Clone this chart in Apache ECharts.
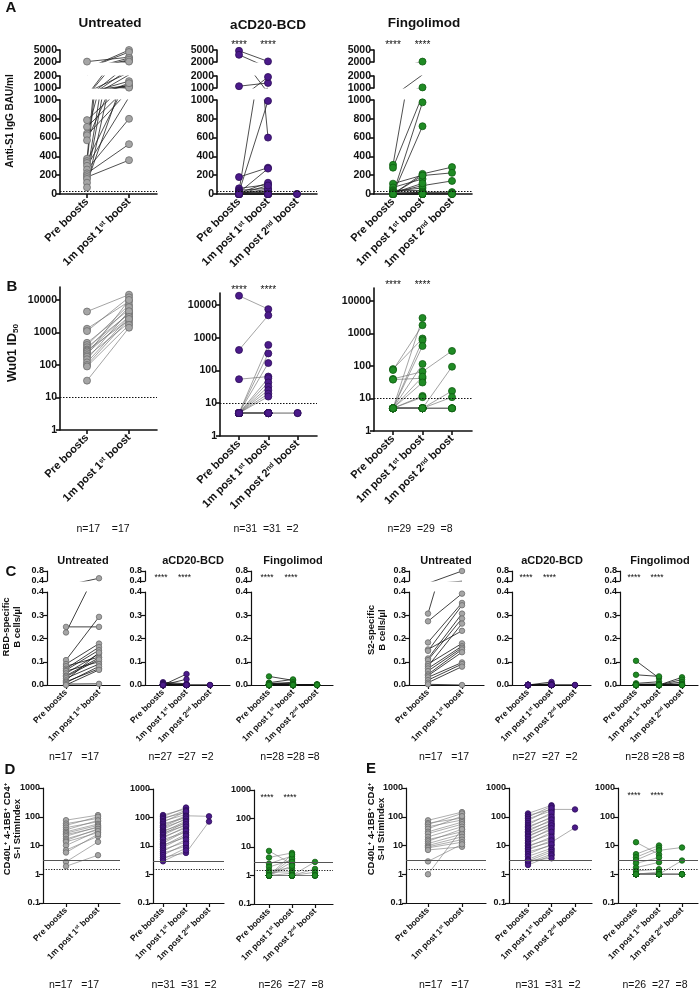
<!DOCTYPE html>
<html><head><meta charset="utf-8">
<script src="https://cdn.jsdelivr.net/npm/echarts@6/dist/echarts.min.js"></script>
<style>html,body{margin:0;padding:0;background:#fff}#c{width:699px;height:989px}</style>
</head><body><div id="c"></div>
<script>
// ---------------- DATA (one entry per subject, null = not measured) ----------------
const CATEGORIES = ['Pre boosts', '1m post 1{sup|st} boost', '1m post 2{sup|nd} boost'];
const TICKS_A_TOP = [2000, 5000], TICKS_A_MID = [1000, 2000];
const TICKS_LOG_B = [1, 10, 100, 1000, 10000];
const TICKS_C_TOP = [0.4, 0.8];
const TICKS_LOG_DE = [0.1, 1, 10, 100, 1000];
const A_CUTOFF = 33.8, B_CUTOFF = 10, DE_POS = 3, DE_CUT = 1.5;

// Panel A: Anti-S1 IgG BAU/ml
const A_UNT_PRE   = [2100, 786, 714, 643, 625, 571, 375, 350, 330, 300, 260, 220, 200, 180, 160, 120, 70];
const A_UNT_POST1 = [3200, 1200, 1150, 2300, 1100, 1570, 5000, 1250, 4500, 1030, 800, 530, 3000, 360, 2570, 1400, 2100];
const A_CD20_PRE   = [4800, 3800, 1150, 180, 60, 40, 30, 20, 15, 10, 10, 5, 5, 5, 5, 5, 0, 0, 0, 0, 0, 0, 0, 0, 0, 0, 0, 0, 0, 0, 0];
const A_CD20_POST1 = [2150, 600, 1420, 280, 100, 60, 1920, 990, 270, 120, 30, 20, 10, 5, 5, 50, 90, 0, 0, 0, 0, 0, 0, 0, 0, 0, 0, 0, 0, 0, 0];
const A_CD20_POST2 = [null, null, null, null, null, null, null, null, null, null, null, null, null, null, null, null, null, null, null, null, null, null, null, null, null, null, null, null, null, 0, 0];
const A_FING_PRE   = [310, 280, 110, 70, 40, 30, 20, 15, 10, 10, 5, 5, 5, 5, 0, 0, 0, 0, 0, 0, 0, 0, 0, 0, 0, 0, 0, 0, 0];
const A_FING_POST1 = [2100, 1050, 200, 160, 36, 64, 18, 89, 114, 10, 5, 0, 5, 0, 975, 721, 214, 196, 0, 0, 18, 10, 0, 0, 0, 5, 0, 0, 0];
const A_FING_POST2 = [null, null, null, null, null, null, null, 139, null, null, null, null, null, null, null, null, 286, 225, null, null, 20, 10, 0, 0, 0, null, null, null, null];

// Panel B: Wu01 ID50
const B_UNT_PRE   = [4400, 1300, 1100, 480, 410, 350, 300, 280, 260, 230, 200, 180, 150, 120, 100, 90, 33];
const B_UNT_POST1 = [14500, 9000, 12000, 5000, 7000, 3700, 6000, 2400, 4000, 3100, 10000, 2000, 4500, 3000, 2600, 1700, 1400];
const B_CD20_PRE   = [19000, 420, 54, 5, 5, 5, 5, 5, 5, 5, 5, 5, 5, 5, 5, 5, 5, 5, 5, 5, 5, 5, 5, 5, 5, 5, 5, 5, 5, 5, 5];
const B_CD20_POST1 = [7400, 4800, 65, 600, 330, 168, 58, 43, 32, 25, 19.5, 16, 5, 5, 5, 5, 5, 5, 5, 5, 5, 5, 5, 5, 5, 5, 5, 5, 5, 5, 5];
const B_CD20_POST2 = [null, null, null, null, null, null, null, null, null, null, null, null, null, null, null, null, null, null, null, null, null, null, null, null, null, null, null, null, null, 5, 5];
const B_FING_PRE   = [80, 75, 40, 38, 5, 5, 5, 5, 5, 5, 5, 5, 5, 5, 5, 5, 5, 5, 5, 5, 5, 5, 5, 5, 5, 5, 5, 5, 5];
const B_FING_POST1 = [700, 1800, 67, 42, 3000, 620, 410, 115, 47, 31, 12, 11, 5, 5, 5, 5, 5, 5, 5, 5, 5, 5, 5, 5, 5, 5, 5, 5, 5];
const B_FING_POST2 = [null, null, 290, null, null, null, null, null, null, null, null, null, 95, 17, 11, 5, 5, 5, 5, null, null, null, null, null, null, null, null, null, null];

// Panel C: RBD-specific and S2-specific B cells/µl
const C_RBD_UNT_PRE   = [0.25, 0.226, 0.107, 0.09, 0.081, 0.07, 0.064, 0.06, 0.05, 0.04, 0.036, 0.029, 0.02, 0.014, 0.01, 0.004, 0.0];
const C_RBD_UNT_POST1 = [0.25, 0.51, 0.293, 0.178, 0.12, 0.163, 0.15, 0.1, 0.134, 0.117, 0.11, 0.09, 0.14, 0.07, 0.08, 0.005, 0.065];
const C_RBD_CD20_PRE   = [0.012, 0.008, 0.005, 0.003, 0.002, 0, 0, 0, 0, 0, 0, 0, 0, 0, 0, 0, 0, 0, 0, 0, 0, 0, 0, 0, 0, 0, 0];
const C_RBD_CD20_POST1 = [0.005, 0.002, 0, 0, 0, 0.047, 0.025, 0, 0, 0, 0, 0, 0, 0, 0, 0, 0, 0, 0, 0, 0, 0, 0, 0, 0, 0, 0];
const C_RBD_CD20_POST2 = [null, null, null, null, null, null, null, null, null, null, null, null, null, null, null, null, null, null, null, null, null, null, null, null, null, 0, 0];
const C_RBD_FING_PRE   = [0.037, 0.01, 0.008, 0.005, 0.004, 0.002, 0, 0, 0, 0, 0, 0, 0, 0, 0, 0, 0, 0, 0, 0, 0, 0, 0, 0, 0, 0, 0, 0];
const C_RBD_FING_POST1 = [0.02, 0.024, 0.005, 0.012, 0.003, 0, 0.006, 0.002, 0, 0, 0, 0, 0, 0, 0, 0, 0, 0, 0, 0, 0, 0, 0, 0, 0, 0, 0, 0];
const C_RBD_FING_POST2 = [null, null, null, null, null, null, null, null, null, null, null, null, null, null, null, null, null, null, null, null, 0.003, 0.002, 0.001, 0, 0, 0, 0, 0];
const C_S2_UNT_PRE   = [0.307, 0.274, 0.183, 0.153, 0.147, 0.114, 0.107, 0.09, 0.081, 0.071, 0.06, 0.046, 0.04, 0.033, 0.021, 0.01, 0.003];
const C_S2_UNT_POST1 = [0.8, 0.393, 0.353, 0.233, 0.343, 0.307, 0.286, 0.179, 0.264, 0.167, 0.16, 0.153, 0.141, 0.097, 0.09, 0.079, 0.0];
const C_S2_CD20_PRE   = [0, 0, 0, 0, 0, 0, 0, 0, 0, 0, 0, 0, 0, 0, 0, 0, 0, 0, 0, 0, 0, 0, 0, 0, 0, 0, 0];
const C_S2_CD20_POST1 = [0.013, 0.005, 0, 0, 0, 0, 0, 0, 0, 0, 0, 0, 0, 0, 0, 0, 0, 0, 0, 0, 0, 0, 0, 0, 0, 0, 0];
const C_S2_CD20_POST2 = [null, null, null, null, null, null, null, null, null, null, null, null, null, null, null, null, null, null, null, null, null, null, null, null, null, 0, 0];
const C_S2_FING_PRE   = [0.104, 0.044, 0.007, 0.003, 0, 0, 0, 0, 0, 0, 0, 0, 0, 0, 0, 0, 0, 0, 0, 0, 0, 0, 0, 0, 0, 0, 0, 0];
const C_S2_FING_POST1 = [0.03, 0.037, 0.014, 0.005, 0.002, 0, 0, 0, 0, 0, 0, 0, 0, 0, 0, 0, 0, 0, 0, 0, 0, 0, 0, 0, 0, 0, 0, 0];
const C_S2_FING_POST2 = [null, null, null, null, null, null, null, null, null, null, null, null, null, null, null, null, null, null, null, null, 0.033, 0.023, 0.013, 0.005, 0.002, 0, 0, 0];

// Panel D: S-I StimIndex
const D_UNT_PRE   = [76, 58, 50, 42, 35, 30, 27, 24, 21, 17, 15, 13.4, 10, 6.9, 5.7, 2.7, 1.9];
const D_UNT_POST1 = [114, 87, 100, 67, 75, 56, 50, 42, 45, 35, 38, 28, 32, 21, 25, 13.4, 4.6];
const D_CD20_PRE   = [122, 108, 96, 88, 75, 68, 60, 52, 47, 44, 38, 34, 31, 29, 26, 24, 21, 19, 17, 14, 12.5, 11, 10, 8.8, 7.5, 6.5, 5.6, 4.8, 4.0, 3.4, 2.9];
const D_CD20_POST1 = [200, 223, 150, 180, 128, 165, 98, 115, 108, 85, 92, 63, 76, 52, 70, 58, 43, 48, 30, 38, 34, 20, 26, 23, 14, 17, 10, 12, 5.7, 8.5, 7];
const D_CD20_POST2 = [null, null, null, null, null, null, null, 110, null, null, null, null, null, null, null, null, null, null, null, null, null, null, null, null, null, null, null, null, 72, null, null];
const D_FING_PRE   = [7.3, 4.3, 2.6, 2.0, 1.5, 1.3, 1, 1, 1, 1, 1, 1, 1, 1, 1, 1, 1, 1, 1, 1, 1, 1, 1, 1, 1, 1, null];
const D_FING_POST1 = [2.5, 6.2, 4.8, 3.5, 1.8, 1.35, 4.0, 3.0, 2.2, 1.2, 5.5, 1, 1, 1, 1, 1, 1, 1, 1, 1, 1, 1, 1, 1, 1, 1, 1];
const D_FING_POST2 = [null, null, null, null, null, null, null, null, null, null, null, null, null, null, null, null, null, null, 3.0, 1.7, 1.3, 1, 1, 1, 1, 1, null];

// Panel E: S-II StimIndex
const E_UNT_PRE   = [75, 60, 54, 45, 38, 30, 26, 20, 16, 14, 11.7, 10, 9, 8.3, 7, 2.8, 1.0];
const E_UNT_POST1 = [145, 90, 130, 77, 105, 65, 55, 45, 30, 37, 25, 20, 16, 13, 9, 11, 37];
const E_CD20_PRE   = [130, 112, 98, 85, 72, 61, 52, 46, 41, 36, 31, 28, 25, 22, 20, 17, 15, 13, 11.5, 10, 9, 8, 7, 6, 5, 4.2, 3.3, 2.9, 2.5, 2.1, 3.0];
const E_CD20_POST1 = [250, 180, 230, 160, 200, 120, 140, 90, 100, 70, 80, 55, 60, 45, 50, 35, 40, 25, 30, 17, 20, 13, 15, 10, 11, 8, 7, 6, 5, 4.5, 3.6];
const E_CD20_POST2 = [null, 180, null, null, null, null, null, null, null, null, null, null, null, null, null, null, null, null, null, null, null, 42, null, null, null, null, null, null, null, null, null];
const E_FING_PRE   = [13, 5.0, 3.9, 3.1, 2.4, 1.7, 1.3, 1, 1, 1, 1, 1, 1, 1, 1, 1, 1, 1, 1, 1, 1, 1, 1, 1, 1, 1, null];
const E_FING_POST1 = [4.9, 10, 8.3, 6.8, 3.8, 2.6, 1.5, 1.2, 1, 1, 1, 1, 1, 1, 1, 1, 1, 1, 1, 1, 1, 1, 1, 1, 1, 1, 1];
const E_FING_POST2 = [null, null, null, 8.5, null, null, null, null, null, null, null, null, null, null, null, null, null, null, 3.0, 1, 1, 1, 1, 1, 1, null, null];

// ---------------- STYLE / LAYOUT ----------------
const FONT = '"Liberation Sans", Arial, Helvetica, sans-serif';
const GRP = {
  unt:  {fill: '#a5a5a5', border: '#6c6c6c'},
  cd20: {fill: '#4b1a8a', border: '#2c0c58'},
  fing: {fill: '#1f8b24', border: '#0f5c12'}
};
const SAB = {aw: 1.6, xfs: 11, yfs: 10.5, sym: 7};
const SCDE = {aw: 1.2, xfs: 8.5, yfs: 9, sym: 5.5};

const grids = [], xAxis = [], yAxis = [], series = [], graphic = [];
const fmt1 = v => Number(v).toFixed(1);
const fmtS = v => String(+Number(v).toPrecision(6));

function build(p) {
  const nT = p.data.length, nS = p.data[0].length;
  const xmin = -(p.c0 - p.left) / p.d, xmax = (p.right - p.c0) / p.d;
  const ticks = []; for (let t = 0; t < nT; t++) ticks.push(t);
  p.segs.forEach((s, si) => {
    const gi = grids.length;
    const isBottom = si === p.segs.length - 1;
    grids.push({left: p.left, top: s.top, width: p.right - p.left, height: s.bottom - s.top,
      containLabel: false, outerBoundsMode: 'none'});
    xAxis.push({gridIndex: gi, type: 'value', min: xmin, max: xmax, show: true,
      axisLine: {show: isBottom, onZero: false, lineStyle: {color: '#111', width: p.st.aw}},
      splitLine: {show: false},
      axisTick: {show: isBottom, customValues: ticks, length: 4, lineStyle: {color: '#111', width: p.st.aw}},
      axisLabel: {show: isBottom, customValues: ticks, formatter: v => CATEGORIES[Math.round(v)], rotate: 45,
        margin: 6, fontSize: p.st.xfs, fontWeight: 'bold', fontFamily: FONT, color: '#111',
        rich: {sup: {fontSize: Math.round(p.st.xfs * 0.62), fontWeight: 'bold', fontFamily: FONT, color: '#111', verticalAlign: 'top'}}}});
    const y = {gridIndex: gi, type: s.log ? 'log' : 'value', min: s.min, max: s.max,
      axisLine: {show: true, onZero: false, lineStyle: {color: '#111', width: p.st.aw}},
      splitLine: {show: false},
      axisTick: {show: true, length: 4, lineStyle: {color: '#111', width: p.st.aw}},
      axisLabel: {fontSize: p.st.yfs, fontWeight: 'bold', fontFamily: FONT, color: '#111', margin: 3, formatter: s.fmt || fmtS}};
    if (s.log) y.logBase = 10;
    if (s.interval) y.interval = s.interval;
    if (s.custom) { y.axisTick.customValues = s.custom; y.axisLabel.customValues = s.custom; }
    yAxis.push(y);
    // one polyline per subject, broken between subjects; each segment's grid clips to its own range
    const ld = [];
    for (let i = 0; i < nS; i++) {
      for (let t = 0; t < nT; t++) { const v = p.data[t][i]; ld.push(v == null ? ['-', '-'] : [t, v]); }
      ld.push(['-', '-']);
    }
    series.push({type: 'line', xAxisIndex: gi, yAxisIndex: gi, data: ld, symbol: 'none', showSymbol: false,
      connectNulls: false, clip: true, silent: true, animation: false, z: 2,
      lineStyle: {color: p.lc, width: p.lw}});
    const pts = [];
    for (let t = 0; t < nT; t++) for (let i = 0; i < nS; i++) { const v = p.data[t][i]; if (v != null) pts.push([t, v]); }
    const sc = {type: 'scatter', xAxisIndex: gi, yAxisIndex: gi, data: pts, symbol: 'circle', symbolSize: p.st.sym,
      clip: true, silent: true, animation: false, z: 3,
      itemStyle: {color: p.g.fill, borderColor: p.g.border, borderWidth: 0.8, opacity: 1}};
    if (isBottom && p.hlines) {
      sc.markLine = {silent: true, symbol: ['none', 'none'], animation: false, label: {show: false},
        lineStyle: {color: '#111', width: 1},
        data: p.hlines.map(h => ({yAxis: h.v, lineStyle: {type: h.type, color: h.c, width: h.w}}))};
    }
    series.push(sc);
  });
  return p;
}

function catX(p, t) { return p.c0 + t * p.d; }

function txt(x, y, text, o) {
  o = o || {};
  graphic.push({type: 'text', x, y, rotation: o.rot || 0, silent: true, z: 10,
    style: {text, fill: '#111', font: (o.w || 'bold') + ' ' + (o.fs || 11) + 'px ' + FONT,
      fontFamily: FONT, fontSize: o.fs || 11, fontWeight: o.w || 'bold',
      align: o.align || 'center', verticalAlign: 'middle', rich: o.rich}});
}

// ---- Panel A (broken axis: three stacked grids) ----
const segA = () => [
  {top: 50, bottom: 62, min: 2000, max: 5000, custom: TICKS_A_TOP},
  {top: 76, bottom: 88, min: 1000, max: 2000, custom: TICKS_A_MID},
  {top: 100, bottom: 194, min: 0, max: 1000, interval: 200}];
const hA = [{v: A_CUTOFF, type: [1.5, 1.5], c: '#111', w: 1}];
build({left: 60, right: 157, c0: 87, d: 42, segs: segA(), st: SAB, g: GRP.unt, lc: '#222', lw: 0.8, hlines: hA,
  data: [A_UNT_PRE, A_UNT_POST1]});
const pAc = build({left: 217, right: 317, c0: 239, d: 29, segs: segA(), st: SAB, g: GRP.cd20, lc: '#222', lw: 0.8, hlines: hA,
  data: [A_CD20_PRE, A_CD20_POST1, A_CD20_POST2]});
const pAf = build({left: 374, right: 472, c0: 393, d: 29.5, segs: segA(), st: SAB, g: GRP.fing, lc: '#222', lw: 0.8, hlines: hA,
  data: [A_FING_PRE, A_FING_POST1, A_FING_POST2]});

// ---- Panel B ----
const hB = [{v: B_CUTOFF, type: [1.5, 1.5], c: '#111', w: 1}];
build({left: 60, right: 157, c0: 87, d: 42, st: SAB, g: GRP.unt, lc: '#666', lw: 0.6, hlines: hB,
  segs: [{top: 287, bottom: 430, min: 1, max: 25000, log: true, custom: TICKS_LOG_B}],
  data: [B_UNT_PRE, B_UNT_POST1]});
const pBc = build({left: 220, right: 317, c0: 239, d: 29.3, st: SAB, g: GRP.cd20, lc: '#666', lw: 0.6, hlines: hB,
  segs: [{top: 293, bottom: 436, min: 1, max: 23000, log: true, custom: TICKS_LOG_B}],
  data: [B_CD20_PRE, B_CD20_POST1, B_CD20_POST2]});
const pBf = build({left: 374, right: 472, c0: 393, d: 29.5, st: SAB, g: GRP.fing, lc: '#666', lw: 0.6, hlines: hB,
  segs: [{top: 288, bottom: 431, min: 1, max: 25000, log: true, custom: TICKS_LOG_B}],
  data: [B_FING_PRE, B_FING_POST1, B_FING_POST2]});

// ---- Panel C (broken axis: two stacked grids) ----
const segC = () => [
  {top: 571, bottom: 581, min: 0.4, max: 0.8, custom: TICKS_C_TOP, fmt: fmt1},
  {top: 592, bottom: 685, min: 0, max: 0.4, interval: 0.1, fmt: fmt1}];
build({left: 47, right: 120, c0: 66, d: 33, segs: segC(), st: SCDE, g: GRP.unt, lc: '#111', lw: 0.8,
  data: [C_RBD_UNT_PRE, C_RBD_UNT_POST1]});
const pCr2 = build({left: 145, right: 230, c0: 163, d: 23.5, segs: segC(), st: SCDE, g: GRP.cd20, lc: '#111', lw: 0.8,
  data: [C_RBD_CD20_PRE, C_RBD_CD20_POST1, C_RBD_CD20_POST2]});
const pCr3 = build({left: 251, right: 333, c0: 269, d: 24, segs: segC(), st: SCDE, g: GRP.fing, lc: '#111', lw: 0.8,
  data: [C_RBD_FING_PRE, C_RBD_FING_POST1, C_RBD_FING_POST2]});
build({left: 409, right: 484, c0: 428, d: 34, segs: segC(), st: SCDE, g: GRP.unt, lc: '#111', lw: 0.8,
  data: [C_S2_UNT_PRE, C_S2_UNT_POST1]});
const pCs2 = build({left: 512, right: 591, c0: 528, d: 23.5, segs: segC(), st: SCDE, g: GRP.cd20, lc: '#111', lw: 0.8,
  data: [C_S2_CD20_PRE, C_S2_CD20_POST1, C_S2_CD20_POST2]});
const pCs3 = build({left: 620, right: 698, c0: 636, d: 23, segs: segC(), st: SCDE, g: GRP.fing, lc: '#111', lw: 0.8,
  data: [C_S2_FING_PRE, C_S2_FING_POST1, C_S2_FING_POST2]});

// ---- Panels D & E ----
const hDE = [{v: DE_POS, type: 'solid', c: '#555', w: 1}, {v: DE_CUT, type: [1.2, 1.5], c: '#111', w: 1}];
const segDE = (t, b) => [{top: t, bottom: b, min: 0.1, max: 1000, log: true, custom: TICKS_LOG_DE}];
build({left: 43, right: 120, c0: 66, d: 32, segs: segDE(788, 903), st: SCDE, g: GRP.unt, lc: '#777', lw: 0.6, hlines: hDE,
  data: [D_UNT_PRE, D_UNT_POST1]});
build({left: 153, right: 224, c0: 163, d: 23, segs: segDE(789, 903), st: SCDE, g: GRP.cd20, lc: '#777', lw: 0.6, hlines: hDE,
  data: [D_CD20_PRE, D_CD20_POST1, D_CD20_POST2]});
const pDf = build({left: 254, right: 333, c0: 269, d: 23, segs: segDE(790, 904), st: SCDE, g: GRP.fing, lc: '#777', lw: 0.6, hlines: hDE,
  data: [D_FING_PRE, D_FING_POST1, D_FING_POST2]});
build({left: 406, right: 486, c0: 428, d: 34, segs: segDE(788, 903), st: SCDE, g: GRP.unt, lc: '#777', lw: 0.6, hlines: hDE,
  data: [E_UNT_PRE, E_UNT_POST1]});
build({left: 509, right: 592, c0: 528, d: 23.5, segs: segDE(788, 903), st: SCDE, g: GRP.cd20, lc: '#777', lw: 0.6, hlines: hDE,
  data: [E_CD20_PRE, E_CD20_POST1, E_CD20_POST2]});
const pEf = build({left: 618, right: 698, c0: 636, d: 23, segs: segDE(788, 903), st: SCDE, g: GRP.fing, lc: '#777', lw: 0.6, hlines: hDE,
  data: [E_FING_PRE, E_FING_POST1, E_FING_POST2]});

// ---------------- TEXT ----------------
txt(11, 8, 'A', {fs: 15}); txt(12, 287, 'B', {fs: 15}); txt(11, 572, 'C', {fs: 15});
txt(10, 770, 'D', {fs: 15}); txt(371, 769, 'E', {fs: 15});
txt(110, 23, 'Untreated', {fs: 13.5}); txt(268, 25, 'aCD20-BCD', {fs: 13.5}); txt(424, 23, 'Fingolimod', {fs: 13.5});
[[83, 'Untreated'], [193, 'aCD20-BCD'], [293, 'Fingolimod'], [446, 'Untreated'], [552, 'aCD20-BCD'], [660, 'Fingolimod']]
  .forEach(([x, t]) => txt(x, 561, t, {fs: 11}));
const R90 = Math.PI / 2;
const supRich = fs => ({sup: {fontSize: fs * 0.65, fontWeight: 'bold', fontFamily: FONT, fill: '#111', verticalAlign: 'top'},
  sub: {fontSize: fs * 0.65, fontWeight: 'bold', fontFamily: FONT, fill: '#111', verticalAlign: 'bottom'}});
txt(10, 121, 'Anti-S1 IgG BAU/ml', {fs: 10, rot: R90});
txt(13, 353, 'Wu01 ID{sub|50}', {fs: 12.5, rot: R90, rich: supRich(12.5)});
txt(6, 627, 'RBD-specific', {fs: 9.5, rot: R90}); txt(17, 627, 'B cells/µl', {fs: 9.5, rot: R90});
txt(371, 630, 'S2-specific', {fs: 9.5, rot: R90}); txt(382, 630, 'B cells/µl', {fs: 9.5, rot: R90});
txt(7, 829, 'CD40L{sup|+} 4-1BB{sup|+} CD4{sup|+}', {fs: 9.5, rot: R90, rich: supRich(9.5)});
txt(17, 829, 'S-I StimIndex', {fs: 9.5, rot: R90});
txt(371, 829, 'CD40L{sup|+} 4-1BB{sup|+} CD4{sup|+}', {fs: 9.5, rot: R90, rich: supRich(9.5)});
txt(381, 829, 'S-II StimIndex', {fs: 9.5, rot: R90});
[[pAc, 45], [pAf, 45], [pBc, 290], [pBf, 285]].forEach(([p, y]) => { txt(catX(p, 0), y, '****', {fs: 10, w: 'normal'}); txt(catX(p, 1), y, '****', {fs: 10, w: 'normal'}); });
[[pCr2, 578], [pCr3, 578], [pCs2, 578], [pCs3, 578], [pDf, 798], [pEf, 796]].forEach(([p, y]) => {
  txt(catX(p, 0) - 2, y, '****', {fs: 8.5, w: 'normal'}); txt(catX(p, 1) - 2, y, '****', {fs: 8.5, w: 'normal'}); });
[[103, 529, 'n=17    =17'], [266, 529, 'n=31  =31  =2'], [420, 529, 'n=29  =29  =8'],
 [74, 757, 'n=17   =17'], [181, 757, 'n=27  =27  =2'], [290, 757, 'n=28 =28 =8'],
 [444, 757, 'n=17   =17'], [545, 757, 'n=27  =27  =2'], [655, 757, 'n=28 =28 =8'],
 [74, 985, 'n=17   =17'], [184, 985, 'n=31  =31  =2'], [291, 985, 'n=26  =27  =8'],
 [444, 985, 'n=17   =17'], [548, 985, 'n=31  =31  =2'], [655, 985, 'n=26  =27  =8']]
  .forEach(([x, y, t]) => txt(x, y, t, {fs: 10.5, w: 'normal'}));

const chart = echarts.init(document.getElementById('c'), null, {renderer: 'canvas'});
chart.setOption({animation: false, backgroundColor: '#fff', grid: grids, xAxis, yAxis, series, graphic});
</script></body></html>
